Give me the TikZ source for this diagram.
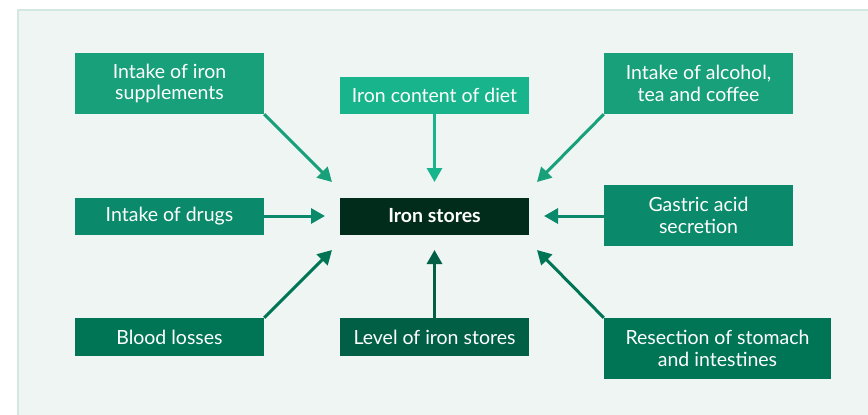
\documentclass[tikz,border=0pt]{standalone}
\usepackage{fontspec}
\setmainfont{Lato}
\usetikzlibrary{arrows.meta}
\definecolor{panel}{HTML}{EEF5F3}
\definecolor{panelborder}{HTML}{D4E8E2}
\definecolor{gtop}{HTML}{17A07A}
\definecolor{gdiet}{HTML}{18B48B}
\definecolor{gmid}{HTML}{0A8A6A}
\definecolor{gbot}{HTML}{007556}
\definecolor{glevel}{HTML}{005F45}
\definecolor{gcore}{HTML}{012B1B}
\tikzset{
  box/.style={rectangle, inner sep=0pt, text=white, align=center,
    font=\fontsize{19.5}{21.5}\selectfont},
  arr/.style={line width=3pt, -{Triangle[length=14pt,width=15pt]}},
}
\begin{document}
\begin{tikzpicture}[x=1pt,y=-1pt]
\useasboundingbox (0,0) rectangle (868,415);
\fill[white] (0,0) rectangle (868,415);
\filldraw[fill=panel, draw=panelborder, line width=1.5pt] (18,10) rectangle (880,430);

\node[box, fill=gtop, minimum width=189pt, minimum height=61pt] (sup) at (169.5,83.5) {Intake of iron\\supplements};
\node[box, fill=gdiet, minimum width=189pt, minimum height=37pt] (diet) at (434.5,95) {Iron content of diet};
\node[box, fill=gtop, minimum width=189pt, minimum height=61pt] (alc) at (698.5,83.5) {Intake of alcohol,\\tea and coffee};
\node[box, fill=gmid, minimum width=189pt, minimum height=37pt] (drugs) at (169.5,216) {Intake of drugs};
\node[box, fill=gcore, minimum width=189pt, minimum height=37pt, font=\fontsize{19.5}{21.5}\selectfont\bfseries] (core) at (434.5,216) {Iron stores};
\node[box, fill=gmid, minimum width=189pt, minimum height=61pt] (gas) at (698.5,215.5) {Gastric acid\\secretion};
\node[box, fill=gbot, minimum width=189pt, minimum height=38pt] (blood) at (169.5,337) {Blood losses};
\node[box, fill=glevel, minimum width=189pt, minimum height=38pt] (level) at (434.5,337) {Level of iron stores};
\node[box, fill=gbot, minimum width=227pt, minimum height=61pt] (res) at (717.5,348.5) {Resection of stomach\\and intestines};

\coordinate (tTL) at (332,182);
\coordinate (tT) at (434.5,182);
\coordinate (tTR) at (537,182);
\coordinate (tL) at (325,216);
\coordinate (tR) at (544,216);
\coordinate (tBL) at (332,250);
\coordinate (tB) at (434.5,250);
\coordinate (tBR) at (537,250);

\draw[arr, gtop] (sup.south east) -- (tTL);
\draw[arr, gdiet] (diet.south) -- (tT);
\draw[arr, gtop] (alc.south west) -- (tTR);
\draw[arr, gmid] (drugs.east) -- (tL);
\draw[arr, gmid] (gas.west |- tR) -- (tR);
\draw[arr, gbot] (blood.north east) -- (tBL);
\draw[arr, glevel] (level.north) -- (tB);
\draw[arr, gbot] (res.north west) -- (tBR);
\end{tikzpicture}
\end{document}
